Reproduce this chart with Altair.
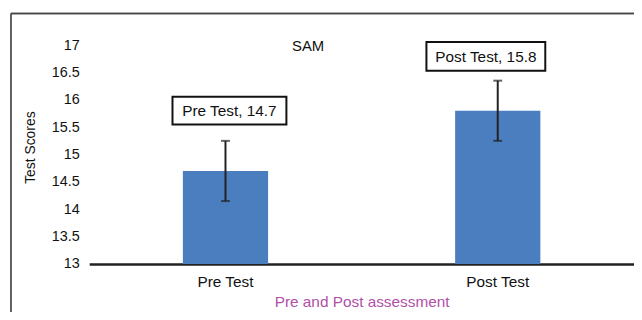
import altair as alt
import pandas as pd

categories = ["Pre Test", "Post Test"]
means = [14.7, 15.8]
errors = [0.55, 0.55]
chart_title = "SAM"

df = pd.DataFrame({"cat": categories, "mean": means, "err": errors})

FONT = "Liberation Sans"

base = alt.Chart(df).transform_calculate(
    lo="datum.mean - datum.err",
    hi="datum.mean + datum.err",
    label="datum.cat + ', ' + format(datum.mean, '.1f')",
)

xscale = alt.Scale(paddingInner=0.687, paddingOuter=0.344)
xaxis = alt.Axis(
    title="Pre and Post assessment",
    labelAngle=0,
    ticks=False,
    grid=False,
    domainColor="#222222",
    domainWidth=2.5,
    labelFont=FONT,
    labelFontSize=15.5,
    labelColor="#111111",
    labelPadding=11,
    titleFont=FONT,
    titleFontSize=15.5,
    titleFontWeight="normal",
    titleColor="#b04fa8",
    titleBaseline="alphabetic",
    titleY=43,
)

yscale = alt.Scale(domain=[13, 17], nice=False, zero=False)
yaxis = alt.Axis(
    values=[13, 13.5, 14, 14.5, 15, 15.5, 16, 16.5, 17],
    format="~g",
    labelOverlap=False,
    title="Test Scores",
    domain=False,
    ticks=False,
    grid=False,
    labelFont=FONT,
    labelFontSize=14.5,
    labelColor="#111111",
    labelPadding=10,
    titleFont=FONT,
    titleFontSize=14,
    titleFontWeight="normal",
    titleColor="#111111",
    titleAngle=-90,
    titleBaseline="middle",
    titleX=-59,
    titleY=103,
)


def xn():
    return alt.X("cat:N", sort=categories, scale=xscale, axis=xaxis, title="Pre and Post assessment")


def yq(field):
    return alt.Y(field, scale=yscale, axis=yaxis, title="Test Scores")


bars = base.mark_bar(color="#4a7ebf").encode(x=xn(), y=yq("mean:Q"), y2=alt.datum(13))

err_rule = base.mark_rule(color="#222222", strokeWidth=2).encode(
    x=xn(), y=yq("lo:Q"), y2="hi:Q"
)
cap_lo = base.mark_tick(color="#222222", thickness=2, size=9, orient="horizontal").encode(
    x=xn(), y=yq("lo:Q")
)
cap_hi = base.mark_tick(color="#222222", thickness=2, size=9, orient="horizontal").encode(
    x=xn(), y=yq("hi:Q")
)


def label_layer(cat, dx, dy, w, h):
    sub = base.transform_filter(alt.datum.cat == cat)
    path = "M-1,-{r}H1V{r}H-1Z".format(r=round(h / w, 4))
    box = sub.mark_point(
        shape=path,
        size=w * w,
        filled=True,
        fill="white",
        stroke="#111111",
        strokeWidth=2,
        opacity=1,
        xOffset=dx,
        yOffset=dy,
    ).encode(x=xn(), y=yq("mean:Q"))
    txt = sub.mark_text(
        font=FONT,
        fontSize=15.5,
        color="#111111",
        baseline="middle",
        align="center",
        xOffset=dx,
        yOffset=dy + 1,
    ).encode(x=xn(), y=yq("mean:Q"), text="label:N")
    return box + txt


lab_pre = label_layer("Pre Test", 4, -61, 115, 28)
lab_post = label_layer("Post Test", -12, -55, 120, 29)

title_mark = alt.Chart(pd.DataFrame({"t": [chart_title]})).mark_text(
    font=FONT, fontSize=15, color="#111111", align="center", baseline="alphabetic"
).encode(x=alt.value(221), y=alt.value(6), text="t:N")

frame_left = alt.Chart(df).mark_rule(color="#444444", strokeWidth=1.2).encode(
    x=alt.value(-79), y=alt.value(-32), y2=alt.value(300)
)
frame_top = alt.Chart(df).mark_rule(color="#444444", strokeWidth=1.5).encode(
    x=alt.value(-79), x2=alt.value(600), y=alt.value(-32)
)

chart = (
    alt.layer(frame_left, frame_top, bars, err_rule, cap_lo, cap_hi, lab_pre, lab_post, title_mark)
    .properties(
        width=550,
        height=221,
        background="white",
        autosize=alt.AutoSizeParams(type="none"),
        padding={"left": 82, "top": 36, "right": 0, "bottom": 47},
    )
    .configure_view(stroke=None, strokeWidth=0)
    .configure_axis(grid=False)
)

chart.save("out.html", embed_options={"renderer": "svg", "actions": False})
